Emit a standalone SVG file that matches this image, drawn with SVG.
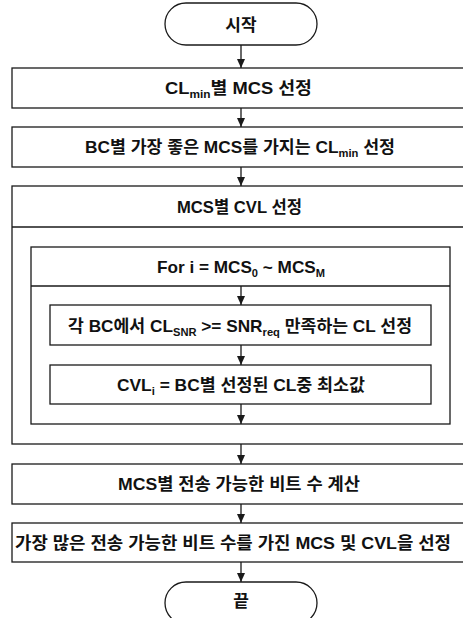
<svg xmlns="http://www.w3.org/2000/svg" width="463" height="618" viewBox="0 0 463 618">
<defs>
<style>
.box{fill:#fff;stroke:#1a1a1a;stroke-width:1.3}
.ln{fill:none;stroke:#1a1a1a;stroke-width:1.3}
.t{font-family:"Liberation Sans","Noto Sans CJK KR",sans-serif;font-size:17px;font-weight:bold;fill:#111}
.c{text-anchor:middle}
.sub{font-size:11px}
</style>
<marker id="arr" markerUnits="userSpaceOnUse" markerWidth="9" markerHeight="8" refX="9" refY="4" orient="auto" viewBox="0 0 9 8">
<path d="M0,0 L9,4 L0,8 Z" fill="#1a1a1a"/>
</marker>
</defs>
<rect width="463" height="618" fill="#fff"/>

<g id="start">
<rect class="box" x="165" y="3" width="152" height="42" rx="21"/>
<text class="t c" x="241" y="30.5">시작</text>
</g>

<g id="step1">
<rect class="box" x="12" y="68" width="470" height="40"/>
<text class="t" x="165" y="94" textLength="147" lengthAdjust="spacingAndGlyphs">CL<tspan class="sub" dy="4">min</tspan><tspan dy="-4">별 MCS 선정</tspan></text>
</g>

<g id="step2">
<rect class="box" x="12" y="127" width="470" height="40"/>
<text class="t" x="85" y="153" textLength="310" lengthAdjust="spacingAndGlyphs">BC별 가장 좋은 MCS를 가지는 CL<tspan class="sub" dy="4">min</tspan><tspan dy="-4"> 선정</tspan></text>
</g>

<g id="step3">
<rect class="box" x="12" y="186" width="470" height="258"/>
<line class="ln" x1="12" y1="227" x2="482" y2="227"/>
<text class="t" x="177" y="212.5" textLength="125" lengthAdjust="spacingAndGlyphs">MCS별 CVL 선정</text>
</g>

<g id="loop">
<rect class="box" x="31" y="247" width="419" height="177"/>
<line class="ln" x1="31" y1="286" x2="450" y2="286"/>
<text class="t" x="157" y="272.5" textLength="168" lengthAdjust="spacingAndGlyphs">For i = MCS<tspan class="sub" dy="4">0</tspan><tspan dy="-4"> ~ MCS</tspan><tspan class="sub" dy="4">M</tspan></text>
</g>

<g id="inner1">
<rect class="box" x="50" y="305" width="381" height="40"/>
<text class="t" x="68" y="331.5" textLength="344" lengthAdjust="spacingAndGlyphs">각 BC에서 CL<tspan class="sub" dy="4">SNR</tspan><tspan dy="-4"> &gt;= SNR</tspan><tspan class="sub" dy="4">req</tspan><tspan dy="-4"> 만족하는 CL 선정</tspan></text>
</g>

<g id="inner2">
<rect class="box" x="50" y="365" width="381" height="39"/>
<text class="t" x="117" y="391" textLength="248" lengthAdjust="spacingAndGlyphs">CVL<tspan class="sub" dy="4">i</tspan><tspan dy="-4"> = BC별 선정된 CL중 최소값</tspan></text>
</g>

<g id="step4">
<rect class="box" x="12" y="464" width="470" height="40"/>
<text class="t" x="118" y="490" textLength="242" lengthAdjust="spacingAndGlyphs">MCS별 전송 가능한 비트 수 계산</text>
</g>

<g id="step5">
<rect class="box" x="12" y="523" width="470" height="39"/>
<text class="t" x="15" y="549" textLength="436" lengthAdjust="spacingAndGlyphs">가장 많은 전송 가능한 비트 수를 가진 MCS 및 CVL을 선정</text>
</g>

<g id="end">
<rect class="box" x="165" y="582" width="152" height="42" rx="21"/>
<text class="t c" x="241" y="607">끝</text>
</g>

<g id="connectors">
<line class="ln" x1="241" y1="45" x2="241" y2="68" marker-end="url(#arr)"/>
<line class="ln" x1="241" y1="108" x2="241" y2="127" marker-end="url(#arr)"/>
<line class="ln" x1="241" y1="167" x2="241" y2="186" marker-end="url(#arr)"/>
<line class="ln" x1="241" y1="286" x2="241" y2="305" marker-end="url(#arr)"/>
<line class="ln" x1="241" y1="345" x2="241" y2="365" marker-end="url(#arr)"/>
<line class="ln" x1="241" y1="404" x2="241" y2="424" marker-end="url(#arr)"/>
<line class="ln" x1="241" y1="444" x2="241" y2="464" marker-end="url(#arr)"/>
<line class="ln" x1="241" y1="504" x2="241" y2="523" marker-end="url(#arr)"/>
<line class="ln" x1="241" y1="562" x2="241" y2="582" marker-end="url(#arr)"/>
</g>
</svg>
